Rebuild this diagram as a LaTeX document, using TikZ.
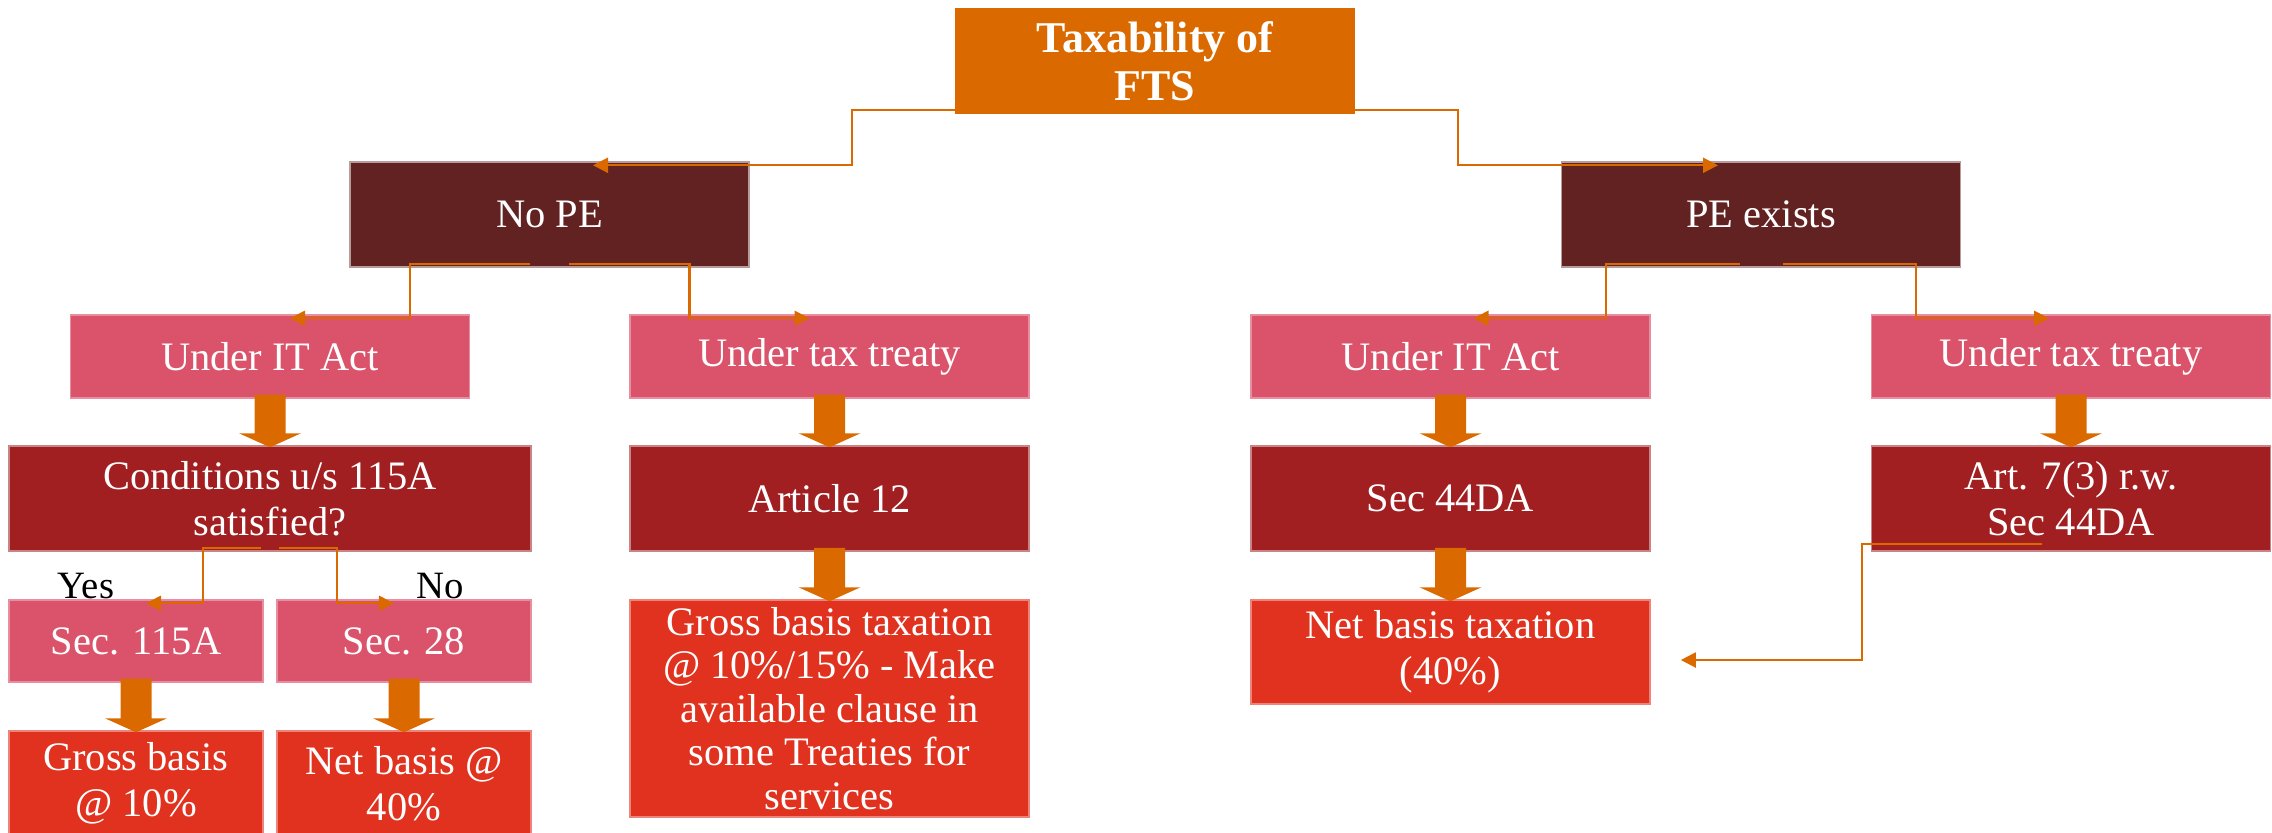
\documentclass[tikz,border=0pt]{standalone}
\usepackage{fontspec}
\setmainfont{Liberation Serif}
\usetikzlibrary{calc,arrows.meta}
\definecolor{ftsorange}{HTML}{DA6A00}
\definecolor{pemaroon}{HTML}{622222}
\definecolor{actpink}{HTML}{DB536B}
\definecolor{secred}{HTML}{A11F21}
\definecolor{taxred}{HTML}{E0321F}
% elbow connector: parent, child, start shift, tip shift
\newcommand{\elbow}[4]{\draw[conn] ($(#1.south)+(#3,-4)$) -| ($(#1.south)!.5!(#2.north)$) |- ($(#2.north)+(#4,4)$);}
% fat block arrow from one box down to the next
\newcommand{\bigarrow}[2]{\fill[fatarrow] ($(#1.south)+(-15.5,-4)$) -- ($(#2.north)+(-15.5,-12)$) -- ($(#2.north)+(-31,-12)$) -- ($(#2.north)+(0,2)$) -- ($(#2.north)+(31,-12)$) -- ($(#2.north)+(15.5,-12)$) -- ($(#1.south)+(15.5,-4)$) -- cycle;}
\begin{document}
\begin{tikzpicture}[x=0.01cm, y=-0.01cm,
  box/.style = {rectangle, inner sep=0pt, align=center, text=white, line width=0.4pt, font=\fontsize{11.5}{13}\selectfont},
  topbox/.style = {box, fill=ftsorange, draw=ftsorange, font=\bfseries\fontsize{12.5}{13.5}\selectfont, minimum width=3.98cm, minimum height=1.04cm},
  pebox/.style = {box, fill=pemaroon, draw=white!55!pemaroon, minimum width=3.99cm, minimum height=1.05cm},
  lawbox/.style = {box, fill=actpink, draw=white!35!actpink, minimum width=3.99cm, minimum height=0.83cm},
  secbox/.style = {box, fill=secred, draw=white!45!secred, minimum width=3.99cm, minimum height=1.05cm},
  ratebox/.style = {box, fill=taxred, draw=white!40!taxred, minimum width=3.99cm, minimum height=1.05cm},
  conn/.style = {draw=ftsorange, line width=0.6pt, -{Triangle[length=0.15cm,width=0.15cm]}},
  fatarrow/.style = {fill=ftsorange},
  answer/.style = {anchor=base, inner sep=0pt, font=\fontsize{11}{13}\selectfont}]
\useasboundingbox (0,0) rectangle (2272,832);

\node[topbox] (top) at (1155,61) {Taxability of\\FTS};

\node[pebox] (nope) at (549.5,214.5) {No PE};
\node[pebox] (pe) at (1761,214.5) {PE exists};

\node[lawbox] (itL) at (270,356.5) {Under IT Act};
\node[lawbox] (ttL) at (829.5,356.5) {Under tax treaty};
\node[lawbox] (itR) at (1450.5,356.5) {Under IT Act};
\node[lawbox] (ttR) at (2071,356.5) {Under tax treaty};

\node[secbox, minimum width=5.22cm] (cond) at (270,498.5) {Conditions u/s 115A\\satisfied?};
\node[secbox] (art12) at (829.5,498.5) {Article 12};
\node[secbox] (sec44) at (1450.5,498.5) {Sec 44DA};
\node[secbox] (art7) at (2071,498.5) {Art. 7(3) r.w.\\Sec 44DA};

\node[lawbox, minimum width=2.54cm, minimum height=0.82cm] (sec115) at (136,641) {Sec. 115A};
\node[lawbox, minimum width=2.54cm, minimum height=0.82cm] (sec28) at (404,641) {Sec. 28};
\node[ratebox, minimum height=2.17cm, font=\fontsize{11.5}{12.4}\selectfont] (grossT) at (829.5,708.5)
  {Gross basis taxation\\@ 10\%/15\% - Make\\available clause in\\some Treaties for\\services};
\node[ratebox, minimum height=1.04cm] (netR) at (1450.5,652) {Net basis taxation\\(40\%)};

\node[ratebox, minimum width=2.54cm] (grossL) at (136,783.5) {Gross basis\\@ 10\%};
\node[ratebox, minimum width=2.54cm] (netL) at (404,783.5) {Net basis @\\40\%};

\node[answer] (yes) at (86,598) {Yes};
\node[answer] (no) at (440,598) {No};

% elbow connectors
\elbow{top}{nope}{-20}{43.5}
\elbow{top}{pe}{20}{-43}
\elbow{nope}{itL}{-19.5}{20}
\elbow{nope}{ttL}{19.5}{-20}
\elbow{pe}{itR}{-21.5}{23}
\elbow{pe}{ttR}{21.5}{-22}
\elbow{cond}{sec115}{-9}{10}
\elbow{cond}{sec28}{9}{-10}
\draw[conn] ($(art7.south)+(-29,-8)$) -| ($(netR.east)+(211,8)$) -- ($(netR.east)+(30,8)$);

% block arrows
\bigarrow{itL}{cond}
\bigarrow{ttL}{art12}
\bigarrow{art12}{grossT}
\bigarrow{itR}{sec44}
\bigarrow{sec44}{netR}
\bigarrow{ttR}{art7}
\bigarrow{sec115}{grossL}
\bigarrow{sec28}{netL}

\end{tikzpicture}
\end{document}
